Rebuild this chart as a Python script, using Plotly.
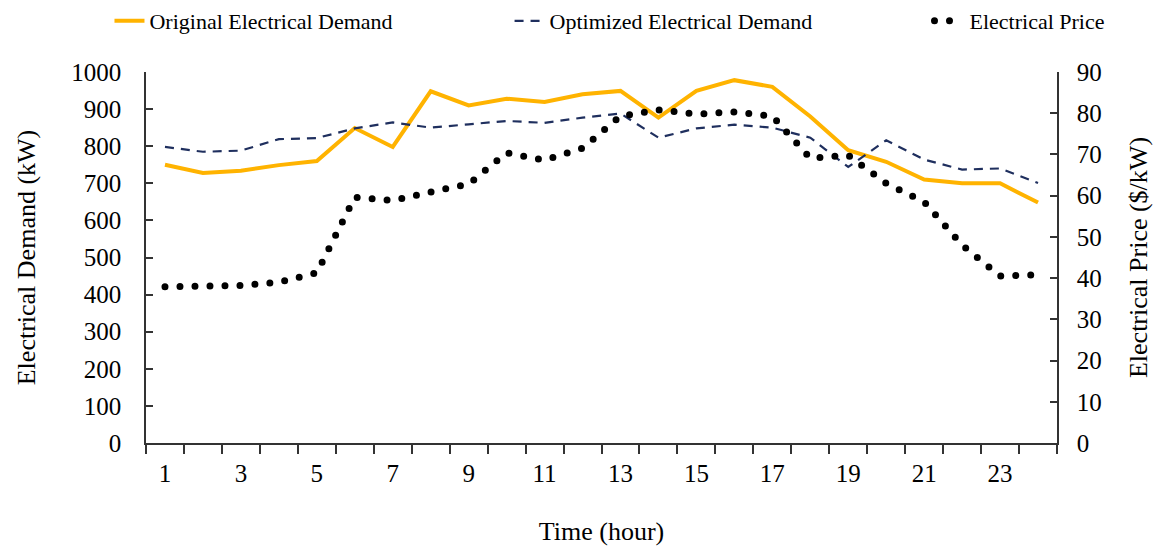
import plotly.graph_objects as go

hours = [str(h) for h in range(1, 25)]
hour_labels = [h if int(h) % 2 == 1 else "" for h in hours]

original_demand = [750, 728, 734, 749, 760, 849, 798, 948, 910, 928, 919, 940,
                   949, 877, 949, 978, 960, 880, 789, 758, 710, 700, 700, 648]
optimized_demand = [798, 785, 788, 819, 822, 848, 864, 850, 859, 868, 863, 877,
                    888, 823, 848, 858, 850, 823, 744, 816, 764, 737, 740, 701]
electrical_price = [37.9, 37.9, 38.2, 39.0, 41.3, 59.6, 58.8, 60.9, 62.8, 70.4, 68.6, 71.5,
                    79.3, 80.8, 79.8, 80.3, 79.3, 69.1, 69.8, 63.0, 58.5, 48.0, 40.5, 40.8]

FONT = "Liberation Serif, Times New Roman, serif"
AXIS_COLOR = "#333333"

fig = go.Figure()
fig.add_trace(go.Scatter(
    x=hours, y=original_demand, name="Original Electrical Demand", legend="legend",
    mode="lines", line=dict(color="#FFB300", width=4),
))
fig.add_trace(go.Scatter(
    x=hours, y=optimized_demand, name="Optimized Electrical Demand", legend="legend2",
    mode="lines", line=dict(color="#1F2F5E", width=2.2, dash="9px,7px"),
))
fig.add_trace(go.Scatter(
    x=hours, y=electrical_price, name="Electrical Price", yaxis="y2", legend="legend3",
    mode="lines", line=dict(color="#000000", width=7, dash="0px,15px"),
))

# three single-entry legends laid out in a row above the plot
legend_style = dict(
    orientation="h", xref="container", yref="container",
    y=1.0, xanchor="left", yanchor="top",
    font=dict(size=22), bgcolor="rgba(0,0,0,0)",
)

fig.update_layout(
    width=1161, height=552,
    margin=dict(l=146, r=104, t=72, b=109, autoexpand=False),
    paper_bgcolor="white", plot_bgcolor="white",
    font=dict(family=FONT, size=25, color="#000000"),
    showlegend=True,
    legend=dict(x=0.0943, **legend_style),
    legend2=dict(x=0.4389, **legend_style),
    legend3=dict(x=0.8006, **legend_style),
    xaxis=dict(
        type="category", categoryorder="array", categoryarray=hours,
        range=[-0.5, 23.5],
        tickmode="array", tickvals=hours, ticktext=hour_labels,
        tickson="boundaries", ticks="outside", ticklen=9, tickcolor=AXIS_COLOR, tickwidth=1.5,
        showline=True, linecolor=AXIS_COLOR, linewidth=1.5,
        showgrid=False, zeroline=False,
        title=dict(text="Time (hour)", font=dict(size=26), standoff=36),
        ticklabelstandoff=7,
    ),
    yaxis=dict(
        range=[0, 1000], dtick=100, tick0=0,
        ticks="inside", ticklen=7, tickcolor=AXIS_COLOR, tickwidth=1.5,
        showline=True, linecolor=AXIS_COLOR, linewidth=1.5,
        showgrid=False, zeroline=False,
        title=dict(text="Electrical Demand (kW)", font=dict(size=26), standoff=28),
        ticklabelstandoff=18,
    ),
    yaxis2=dict(
        range=[0, 90], dtick=10, tick0=0, overlaying="y", side="right",
        ticks="inside", ticklen=7, tickcolor=AXIS_COLOR, tickwidth=1.5,
        showline=True, linecolor=AXIS_COLOR, linewidth=1.5,
        showgrid=False, zeroline=False,
        title=dict(text="Electrical Price ($/kW)", font=dict(size=26), standoff=28),
        ticklabelstandoff=13,
    ),
)

# zero-length dashes with round caps give the price line its round dots
round_dots = """
var gd = document.getElementById('{plot_id}');
function roundDots() {
  gd.querySelectorAll('path.js-line').forEach(function (p) {
    var d = (p.style.strokeDasharray || '').trim();
    if (d.charAt(0) === '0') { p.style.strokeLinecap = 'round'; }
  });
}
roundDots();
gd.on('plotly_afterplot', roundDots);
"""

fig.write_html("out.html", post_script=round_dots)
